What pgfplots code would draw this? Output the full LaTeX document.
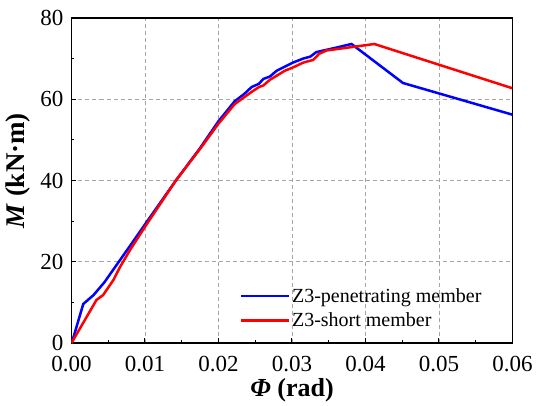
\documentclass[border=0pt]{standalone}
\usepackage{fontspec}
\setmainfont{Liberation Serif}
\usepackage{pgfplots}
\pgfplotsset{compat=1.18}
\begin{document}
\begin{tikzpicture}
\useasboundingbox (-71.5pt,-62pt) rectangle (476.5pt,343pt);
\begin{axis}[
  at={(0pt,0pt)}, anchor=south west,
  scale only axis, width=441pt, height=325pt,
  xmin=0, xmax=0.06, ymin=0, ymax=80,
  xtick={0,0.01,...,0.06}, ytick={0,20,...,80},
  minor x tick num=1, minor y tick num=1,
  tick align=inside, major tick length=5pt, minor tick length=3pt,
  xtick pos=bottom, ytick pos=left,
  axis line style={line width=1.2pt, black},
  every tick/.style={black, line width=1pt},
  grid=major,
  major grid style={gray!70, dashed, line width=0.8pt, dash pattern=on 4pt off 3pt},
  scaled x ticks=false,
  /pgf/number format/assume math mode=true,
  tick label style={font=\fontsize{23}{28}\selectfont, inner sep=1pt},
  xticklabel style={/pgf/number format/.cd, fixed, fixed zerofill, precision=2, /tikz/.cd, yshift=-12pt},
  yticklabel style={xshift=-7pt},
  xlabel={\textbf{\textit{Φ} (rad)}},
  ylabel={\textbf{\textit{M} (kN·m)}},
  xlabel style={font=\fontsize{26}{31}\selectfont, inner sep=1pt, at={(axis description cs:0.5,0)}, anchor=center, yshift=-47pt},
  ylabel style={font=\fontsize{27}{32}\selectfont, at={(axis description cs:0,0.53)}, anchor=center, yshift=53.5pt},
  legend style={draw=none, fill=none, at={(0.375,0.18)}, anchor=north west,
    font=\fontsize{20}{24}\selectfont, row sep=6pt,
    nodes={inner sep=1.5pt}},
  legend cell align=left,
  legend image code/.code={\draw[#1] (0pt,0pt) -- (48pt,0pt);},
]
\addplot[blue, line width=2.5pt] coordinates {
(0,0)(0.0002,1)(0.0016,9.6)(0.003,11.8)(0.0045,15)(0.0057,18.1)(0.008,24)(0.01,29.2)(0.0142,40)(0.0175,48)(0.02,54.6)(0.0222,59.5)(0.0235,61.3)(0.0245,63)(0.0255,63.8)(0.0261,65)(0.0270,65.6)(0.0279,67)(0.029,68)(0.0301,69)(0.0315,70)(0.0325,70.5)(0.0333,71.6)(0.036,72.7)(0.0381,73.6)(0.0451,64)(0.06,56.2)
};
\addlegendentry{Z3-penetrating member}
\addplot[red, line width=2.5pt] coordinates {
(0,0)(0.0034,10.6)(0.0043,11.8)(0.0057,15.5)(0.0066,18.7)(0.008,23)(0.01,28.6)(0.0142,40)(0.0175,47.8)(0.02,54)(0.0222,58.8)(0.0235,60.5)(0.0245,61.8)(0.0255,63)(0.0261,63.4)(0.027,64.8)(0.0281,66)(0.029,67)(0.0301,67.8)(0.0315,69)(0.0329,69.7)(0.0337,71.2)(0.0347,72)(0.0412,73.6)(0.06,62.7)
};
\addlegendentry{Z3-short member}
\end{axis}
\end{tikzpicture}
\end{document}
